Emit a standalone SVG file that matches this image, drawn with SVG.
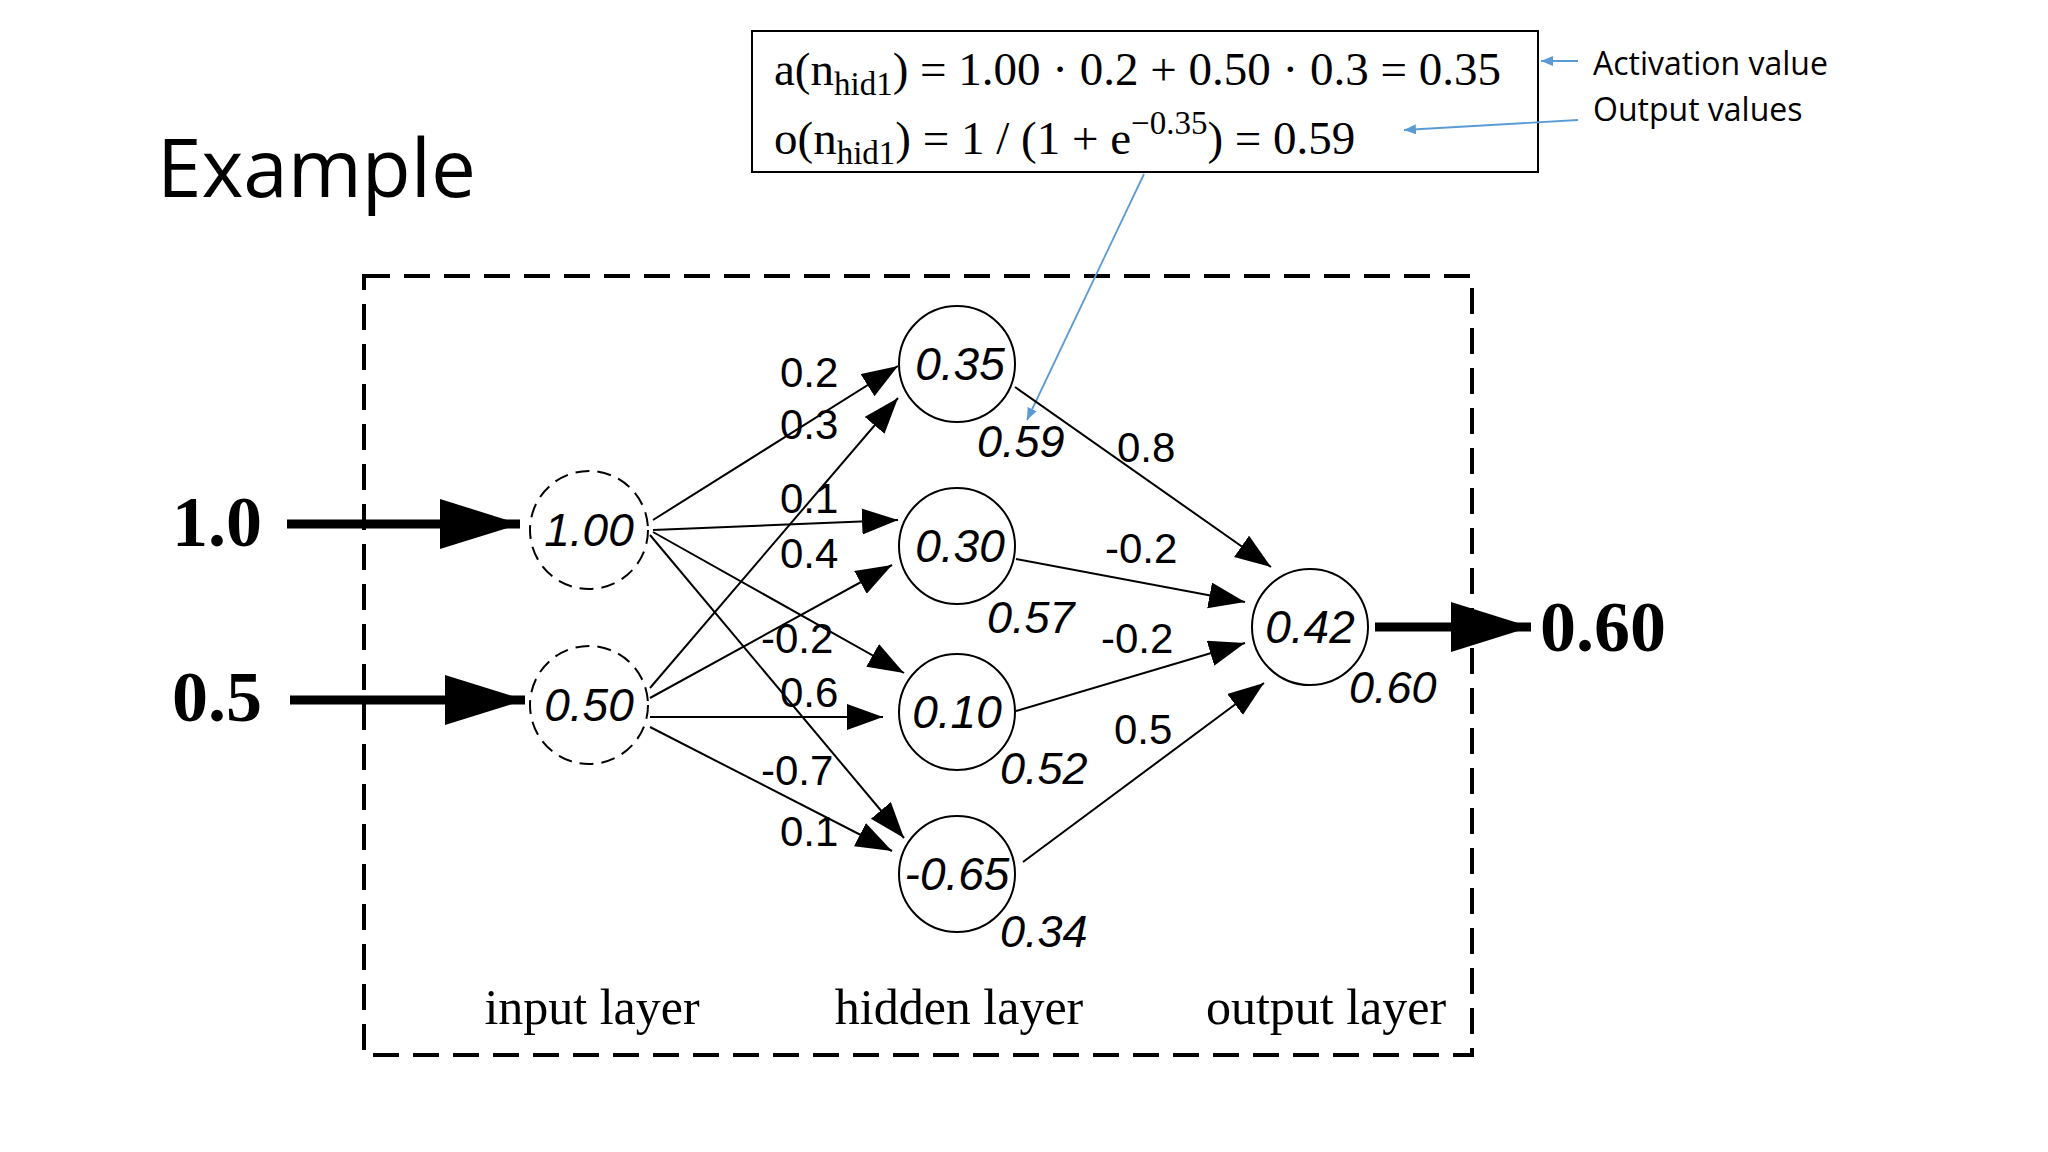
<svg xmlns="http://www.w3.org/2000/svg" width="2048" height="1152" viewBox="0 0 2048 1152">
<style>
.n{fill:#fff;stroke:#000;stroke-width:2}
.d{fill:#fff;stroke:#000;stroke-width:2;stroke-dasharray:14 8}
.nt{font-family:"Liberation Sans",Arial,sans-serif;font-style:italic;font-size:46px;text-anchor:middle}
.w{font-family:"Liberation Sans",Arial,sans-serif;font-size:42px}
.ov{font-family:"Liberation Sans",Arial,sans-serif;font-style:italic;font-size:45px}
.tm{font-family:"Liberation Serif","Times New Roman",serif;font-size:50px}
.f{font-family:"Liberation Serif","Times New Roman",serif;font-size:47px}
.b{font-family:"Liberation Serif","Times New Roman",serif;font-weight:bold;font-size:72px}
.c{font-family:"Open Sans","Liberation Sans",sans-serif;font-size:32px}
.e{stroke:#000;stroke-width:2;fill:none;marker-end:url(#ah)}
.t{stroke:#000;stroke-width:9;fill:none;marker-end:url(#big)}
.bl{stroke:#5b9bd5;stroke-width:1.8;fill:none;marker-end:url(#ba)}
</style>
<defs>
<marker id="ah" markerUnits="userSpaceOnUse" markerWidth="40" markerHeight="30" refX="36" refY="13" orient="auto"><path d="M0,0 L36,13 L0,26 Z"/></marker>
<marker id="big" markerUnits="userSpaceOnUse" markerWidth="90" markerHeight="60" refX="80" refY="25" orient="auto"><path d="M0,0 L80,25 L0,50 Z"/></marker>
<marker id="ba" markerUnits="userSpaceOnUse" markerWidth="14" markerHeight="12" refX="12" refY="5" orient="auto"><path d="M0,0 L12,5 L0,10 Z" fill="#5b9bd5"/></marker>
</defs>
<rect width="2048" height="1152" fill="#fff"/>
<text x="157" y="197" font-family="'Open Sans','Liberation Sans',sans-serif" font-size="80">Example</text>
<rect x="364" y="276" width="1108" height="779" fill="none" stroke="#000" stroke-width="4" stroke-dasharray="26 14"/>
<g id="formula">
<rect x="752" y="31" width="786" height="141" fill="#fff" stroke="#000" stroke-width="2"/>
<text class="f" x="774" y="85">a(n<tspan font-size="33" dy="10">hid1</tspan><tspan dy="-10">) = 1.00 · 0.2 + 0.50 · 0.3 = 0.35</tspan></text>
<text class="f" x="774" y="154">o(n<tspan font-size="33" dy="10">hid1</tspan><tspan dy="-10">) = 1 / (1 + e</tspan><tspan font-size="33" dy="-20">−0.35</tspan><tspan dy="20">) = 0.59</tspan></text>
</g>
<g id="notes">
<text class="c" x="1593" y="75">Activation value</text>
<text class="c" x="1593" y="121">Output values</text>
</g>
<g id="connectors">
<line class="bl" x1="1578" y1="61" x2="1541" y2="61"/>
<line class="bl" x1="1578" y1="120" x2="1404" y2="130"/>
<line class="bl" x1="1144" y1="174" x2="1027" y2="420"/>
<line class="t" x1="287" y1="524" x2="520" y2="524"/>
<line class="t" x1="290" y1="700" x2="525" y2="700"/>
<line class="t" x1="1375" y1="627" x2="1531" y2="627"/>
<line class="e" x1="653" y1="520" x2="898" y2="366"/>
<line class="e" x1="653" y1="530" x2="898" y2="520"/>
<line class="e" x1="653" y1="532" x2="904" y2="673"/>
<line class="e" x1="650" y1="535" x2="904" y2="838"/>
<line class="e" x1="650" y1="688" x2="898" y2="398"/>
<line class="e" x1="650" y1="698" x2="892" y2="565"/>
<line class="e" x1="650" y1="717" x2="883" y2="717"/>
<line class="e" x1="650" y1="727" x2="892" y2="851"/>
<line class="e" x1="1015" y1="387" x2="1271" y2="567"/>
<line class="e" x1="1016" y1="559" x2="1245" y2="602"/>
<line class="e" x1="1016" y1="711" x2="1245" y2="643"/>
<line class="e" x1="1023" y1="862" x2="1264" y2="683"/>
</g>
<g id="in1"><circle class="d" cx="589" cy="530" r="59"/><text class="nt" x="589" y="546">1.00</text></g>
<g id="in2"><circle class="d" cx="589" cy="705" r="59"/><text class="nt" x="589" y="721">0.50</text></g>
<g id="h1"><circle class="n" cx="957" cy="364" r="58"/><text class="nt" x="960" y="380">0.35</text></g>
<g id="h2"><circle class="n" cx="957" cy="546" r="58"/><text class="nt" x="960" y="562">0.30</text></g>
<g id="h3"><circle class="n" cx="957" cy="712" r="58"/><text class="nt" x="957" y="728">0.10</text></g>
<g id="h4"><circle class="n" cx="957" cy="874" r="58"/><text class="nt" x="957" y="890">-0.65</text></g>
<g id="out"><circle class="n" cx="1310" cy="627" r="58"/><text class="nt" x="1310" y="643">0.42</text></g>
<g id="labels">
<text class="b" x="172" y="546">1.0</text>
<text class="b" x="172" y="721">0.5</text>
<text class="b" x="1540" y="651">0.60</text>
<text class="w" x="780" y="387">0.2</text>
<text class="w" x="780" y="439">0.3</text>
<text class="w" x="780" y="513">0.1</text>
<text class="w" x="780" y="568">0.4</text>
<text class="w" x="761" y="653">-0.2</text>
<text class="w" x="780" y="707">0.6</text>
<text class="w" x="761" y="785">-0.7</text>
<text class="w" x="780" y="846">0.1</text>
<text class="w" x="1117" y="462">0.8</text>
<text class="w" x="1105" y="563">-0.2</text>
<text class="w" x="1101" y="653">-0.2</text>
<text class="w" x="1114" y="744">0.5</text>
<text class="ov" x="977" y="457">0.59</text>
<text class="ov" x="987" y="633">0.57</text>
<text class="ov" x="1000" y="784">0.52</text>
<text class="ov" x="1000" y="947">0.34</text>
<text class="ov" x="1349" y="703">0.60</text>
<text class="tm" x="592" y="1024" text-anchor="middle">input layer</text>
<text class="tm" x="959" y="1024" text-anchor="middle">hidden layer</text>
<text class="tm" x="1326" y="1024" text-anchor="middle">output layer</text>
</g>
</svg>
